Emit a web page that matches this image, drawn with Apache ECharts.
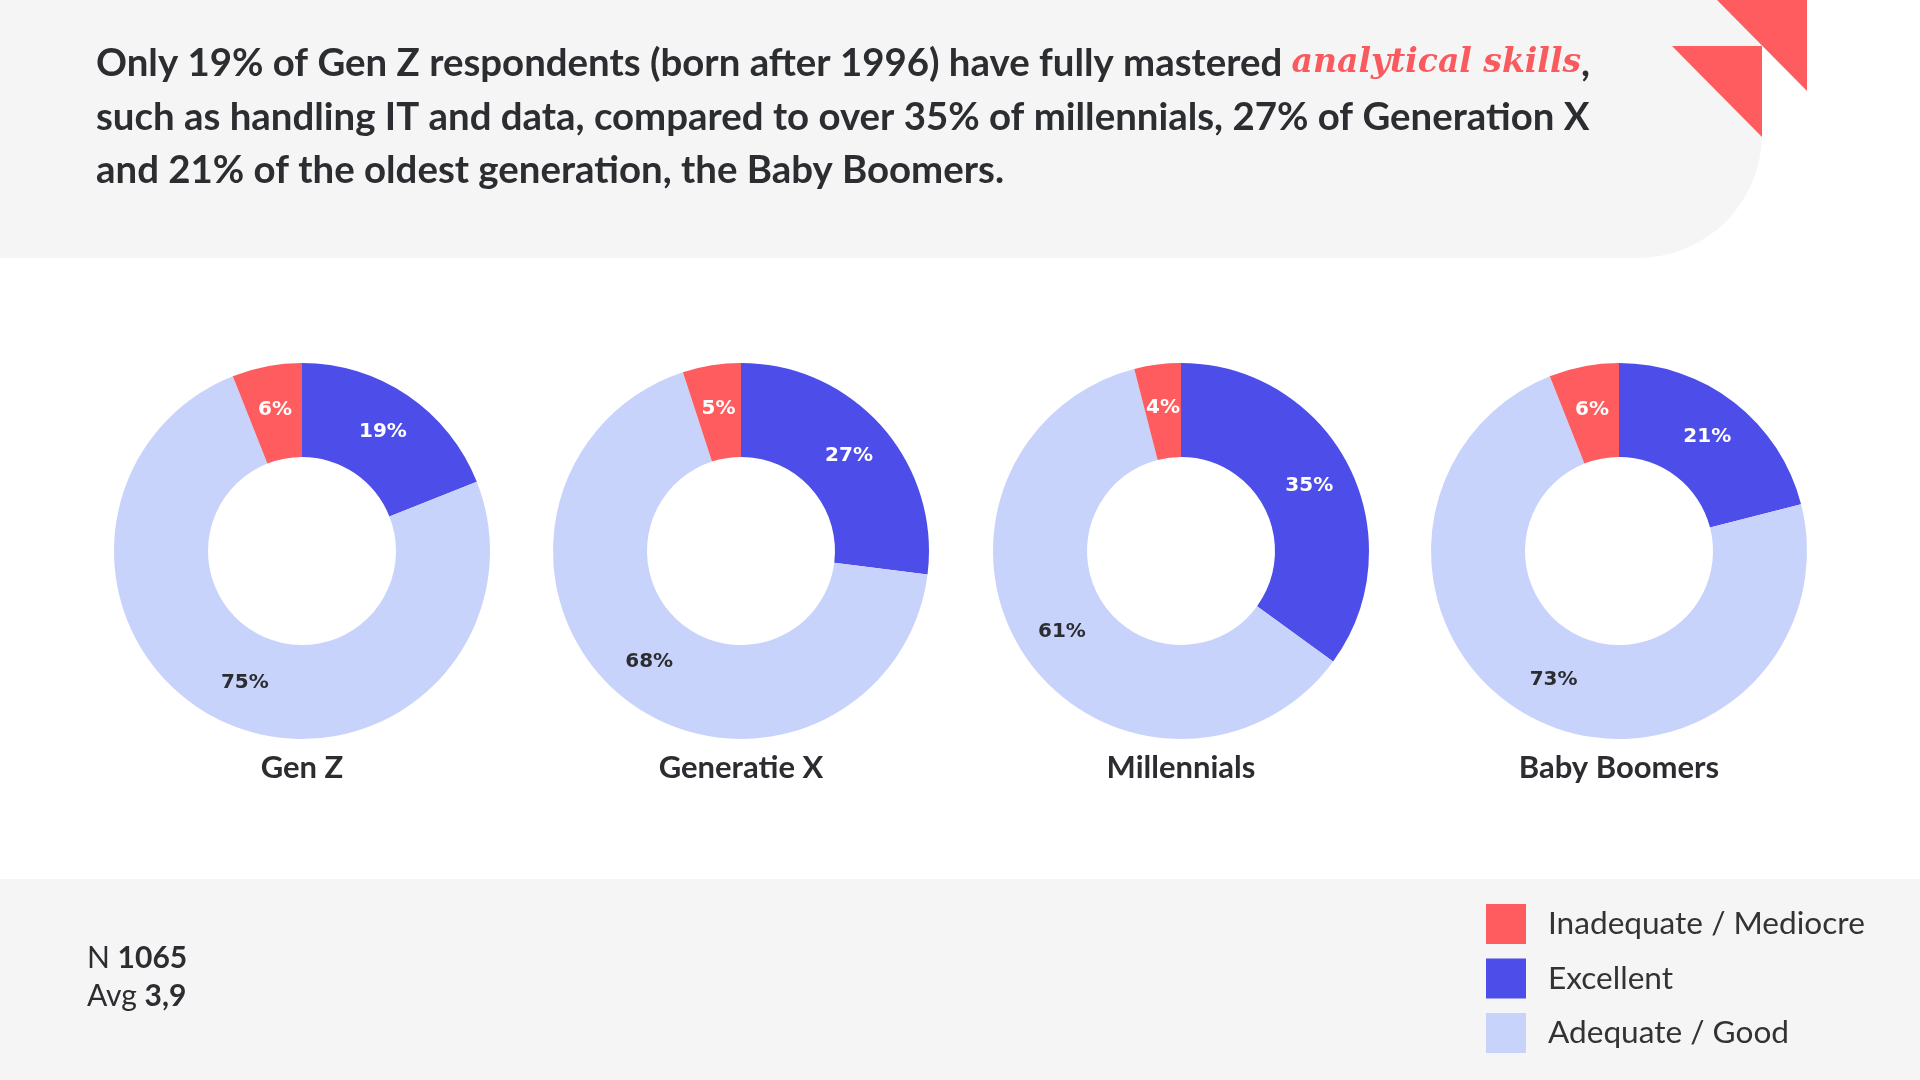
<!DOCTYPE html>
<html>
<head>
<meta charset="utf-8">
<title>Analytical skills per generation</title>
<script src="https://cdn.jsdelivr.net/npm/echarts@6/dist/echarts.min.js"></script>
<style>
  html, body { margin: 0; padding: 0; background: #ffffff; }
  #main { width: 1920px; height: 1080px; }
</style>
</head>
<body>
<div id="main"></div>
<script>
// data
var generations = ['Gen Z', 'Generatie X', 'Millennials', 'Baby Boomers'];
var categories = ['Excellent', 'Adequate / Good', 'Inadequate / Mediocre'];
var excellent = [19, 27, 35, 21];
var adequate = [75, 68, 61, 73];
var inadequate = [6, 5, 4, 6];
var legendOrder = ['Inadequate / Mediocre', 'Excellent', 'Adequate / Good'];

// layout
var centersX = [302, 741, 1181, 1619];
var centerY = 551;
var colors = ['#4d4de9', '#c8d3fc', '#fe5c5e'];
var labelColors = ['#ffffff', '#2b2d31', '#ffffff'];
var dark = '#2b2d31';
var grey = '#f5f5f5';

var chart = echarts.init(document.getElementById('main'));

var series = generations.map(function (gen, i) {
  var vals = [excellent[i], adequate[i], inadequate[i]];
  return {
    name: gen,
    type: 'pie',
    center: [centersX[i], centerY],
    radius: [94, 188],
    startAngle: 90,
    clockwise: true,
    avoidLabelOverlap: false,
    emphasis: { disabled: true },
    data: vals.map(function (v, k) {
      return {
        name: categories[k],
        value: v,
        itemStyle: { color: colors[k] },
        label: { color: labelColors[k] }
      };
    }),
    label: {
      show: true,
      position: 'inside',
      formatter: '{c}%',
      fontFamily: 'DejaVu Sans',
      fontWeight: 'bold',
      fontSize: 20
    },
    labelLine: { show: false }
  };
});

var graphics = [
  // header box
  {
    type: 'rect', z: -10,
    shape: { x: 0, y: 0, width: 1762, height: 258, r: [0, 0, 124, 0] },
    style: { fill: grey }
  },
  // footer band
  {
    type: 'rect', z: -10,
    shape: { x: 0, y: 879, width: 1920, height: 201 },
    style: { fill: grey }
  },
  // decoration triangles
  {
    type: 'polygon',
    shape: { points: [[1717, 0], [1807, 0], [1807, 91]] },
    style: { fill: '#fe5c5e' }
  },
  {
    type: 'polygon',
    shape: { points: [[1672, 46], [1762, 46], [1762, 137]] },
    style: { fill: '#fe5c5e' }
  },
  // headline
  {
    type: 'text', left: 96, top: 37,
    style: {
      text: 'Only 19% of Gen Z respondents (born after 1996) have fully mastered {hl|analytical skills},\n' +
            'such as handling IT and data, compared to over 35% of millennials, 27% of Generation X\n' +
            'and 21% of the oldest generation, the Baby Boomers.',
      fontFamily: 'Lato', fontWeight: 'bold', fontSize: 38.4, lineHeight: 53.5, fill: dark,
      rich: {
        hl: {
          fontFamily: 'DejaVu Serif', fontStyle: 'italic', fontWeight: 'bold',
          fontSize: 33, lineHeight: 53.5, fill: '#fa5a5e'
        }
      }
    }
  },
  // sample info
  {
    type: 'text', left: 87, top: 939,
    style: {
      text: 'N {b|1065}\nAvg {b|3,9}',
      fontFamily: 'Lato', fontSize: 30, lineHeight: 38, fill: dark,
      rich: { b: { fontFamily: 'Lato', fontWeight: 'bold', fontSize: 30, lineHeight: 38, fill: dark } }
    }
  }
];

// generation names under each donut
generations.forEach(function (gen, i) {
  graphics.push({
    type: 'text', x: centersX[i], y: 768,
    style: {
      text: gen, fontFamily: 'Lato', fontWeight: 'bold', fontSize: 31, fill: dark,
      align: 'center', verticalAlign: 'middle'
    }
  });
});

var option = {
  backgroundColor: '#ffffff',
  animation: false,
  legend: {
    orient: 'vertical',
    left: 1486,
    top: 904,
    padding: 0,
    data: legendOrder,
    icon: 'rect',
    itemWidth: 40,
    itemHeight: 40,
    itemGap: 14.5,
    selectedMode: false,
    textStyle: {
      fontFamily: 'Lato', fontSize: 31.6, color: '#333333',
      padding: [0, 0, 0, 17]
    }
  },
  graphic: graphics,
  series: series
};

chart.setOption(option);
</script>
</body>
</html>
